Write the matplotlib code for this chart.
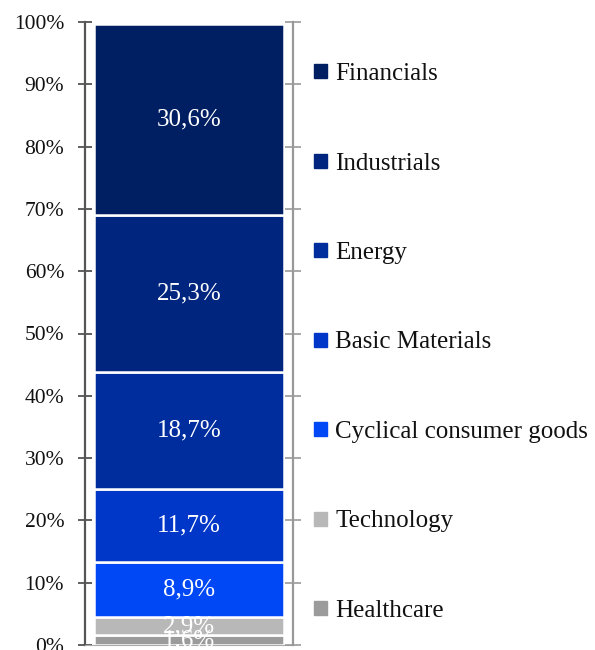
import matplotlib
matplotlib.use("Agg")
import matplotlib.pyplot as plt
from matplotlib.patches import Patch

categories = ["Healthcare", "Technology", "Cyclical consumer goods", "Basic Materials",
              "Energy", "Industrials", "Financials"]
values = [1.6, 2.9, 8.9, 11.7, 18.7, 25.3, 30.6]
labels = ["1,6%", "2,9%", "8,9%", "11,7%", "18,7%", "25,3%", "30,6%"]
colors = ["#9c9b9c", "#b9b8b9", "#0047f5", "#0037c8", "#002d9e", "#00257e", "#001e62"]
yticks = [0, 10, 20, 30, 40, 50, 60, 70, 80, 90, 100]
yticklabels = ["0%", "10%", "20%", "30%", "40%", "50%", "60%", "70%", "80%", "90%", "100%"]

plt.rcParams['font.family'] = ['Liberation Serif', 'DejaVu Serif']

fig = plt.figure(figsize=(5.95, 6.5), dpi=100)
ax = fig.add_axes([85/595, 1-645/650, (293-85)/595, (645-22)/650])

bottom = 0
handles = []
for cat, v, lab, c in zip(categories, values, labels, colors):
    ax.bar(0, v, width=0.91, bottom=bottom, color=c, edgecolor="white", linewidth=1.8)
    ax.text(0, bottom + v/2, lab, ha="center", va="center", color="white", fontsize=18)
    handles.append(Patch(facecolor=c, edgecolor=c, label=cat))
    bottom += v

ax.set_xlim(-0.5, 0.5)
ax.set_ylim(0, 100)
ax.set_xticks([])
ax.set_yticks(yticks)
ax.set_yticklabels(yticklabels, fontsize=15.5, color="#111111")
ax.tick_params(axis="y", direction="inout", length=10, width=1.2, color="#444444", pad=10)
ax.spines["left"].set_color("#555555")
ax.spines["left"].set_linewidth(1.6)
ax.spines["top"].set_visible(False)
ax.spines["bottom"].set_color("#aaaaaa")
ax.spines["right"].set_visible(False)

ax2 = ax.twinx()
ax2.set_ylim(0, 100)
ax2.set_yticks(yticks)
ax2.set_yticklabels([])
ax2.tick_params(axis="y", direction="inout", length=11, width=1.2, color="#999999")
for s in ["left", "top", "bottom"]:
    ax2.spines[s].set_visible(False)
ax2.spines["right"].set_color("#999999")
ax2.spines["right"].set_linewidth(1.6)

leg = fig.legend(handles=handles[::-1], loc="upper left", bbox_to_anchor=(304/595, 1-53/650),
                 frameon=False, fontsize=18, handlelength=0.5, handleheight=0.5,
                 handletextpad=0.35, labelspacing=2.70, borderaxespad=0)
for t in leg.get_texts():
    t.set_color("#111111")

fig.savefig("out.png", dpi=100)
